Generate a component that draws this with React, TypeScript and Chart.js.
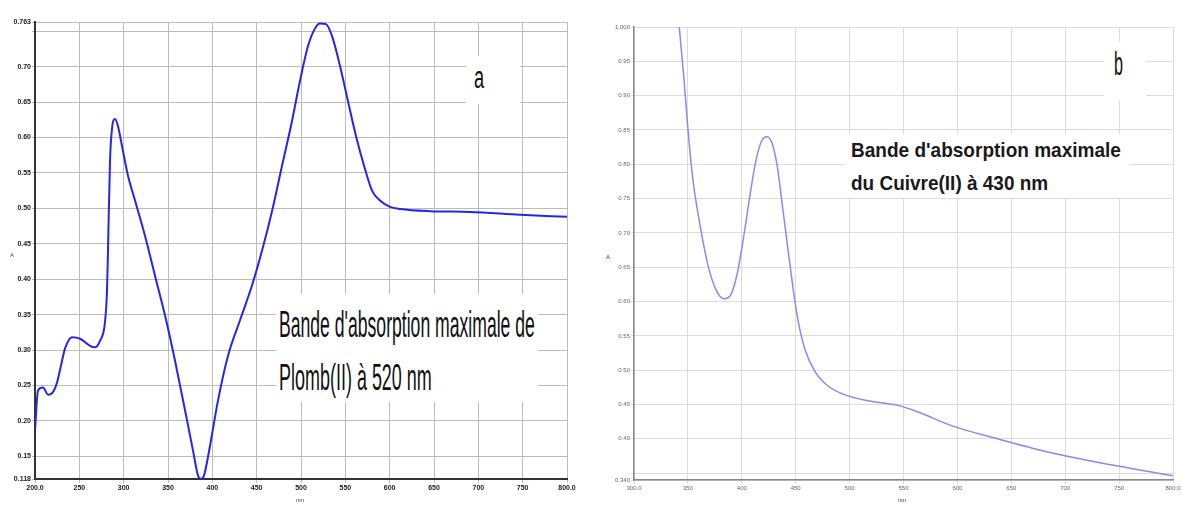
import React, { useEffect, useLayoutEffect, useRef, useState } from "react";
import { Chart, registerables } from "chart.js";

Chart.register(...registerables);

// ---------- Panel a : Plomb(II) ----------
const leadWavelengths = [200.0, 203.4, 209.0, 214.7, 219.2, 224.8, 230.5, 233.8, 241.7, 250.8, 262.0, 267.7, 273.3, 278.9, 281.2, 282.3, 284.6, 286.8, 290.2, 293.6, 298.1, 304.9, 312.8, 324.1, 335.3, 346.6, 357.9, 369.2, 378.2, 383.8, 387.2, 390.6, 397.4, 406.4, 417.7, 431.2, 444.7, 456.0, 467.3, 478.6, 489.8, 498.9, 507.9, 515.8, 521.4, 528.2, 535.0, 544.0, 553.0, 562.0, 571.1, 580.1, 589.1, 600.4, 611.7, 645.5, 690.6, 747.0, 800.0];
const leadAbsorbance = [0.187, 0.243, 0.247, 0.237, 0.239, 0.254, 0.285, 0.302, 0.318, 0.316, 0.306, 0.304, 0.313, 0.339, 0.384, 0.440, 0.567, 0.612, 0.626, 0.616, 0.588, 0.546, 0.511, 0.461, 0.405, 0.349, 0.285, 0.215, 0.158, 0.123, 0.118, 0.123, 0.165, 0.229, 0.292, 0.342, 0.391, 0.440, 0.496, 0.560, 0.623, 0.680, 0.729, 0.754, 0.761, 0.760, 0.743, 0.701, 0.651, 0.602, 0.560, 0.525, 0.511, 0.502, 0.499, 0.496, 0.495, 0.491, 0.488];
const leadXTicks = [200, 250, 300, 350, 400, 450, 500, 550, 600, 650, 700, 750, 800];
const leadXTickLabels = ["200.0", "250", "300", "350", "400", "450", "500", "550", "600", "650", "700", "750", "800.0"];
const leadYTicks = [0.118, 0.15, 0.2, 0.25, 0.3, 0.35, 0.4, 0.45, 0.5, 0.55, 0.6, 0.65, 0.7, 0.75, 0.763];
const leadYTickLabels = ["0.118", "0.15", "0.20", "0.25", "0.30", "0.35", "0.40", "0.45", "0.50", "0.55", "0.60", "0.65", "0.70", "", "0.763"];

// ---------- Panel b : Cuivre(II) ----------
const copperWavelengths = [340.8, 346.4, 350.1, 354.7, 361.2, 368.6, 376.1, 383.5, 389.1, 395.5, 402.0, 407.6, 413.2, 418.7, 423.4, 428.0, 432.7, 438.2, 444.7, 451.2, 458.6, 467.9, 480.0, 495.7, 518.9, 546.8, 565.3, 593.1, 639.5, 685.9, 732.3, 778.7, 800.0];
const copperAbsorbance = [1.02, 0.923, 0.850, 0.777, 0.712, 0.653, 0.617, 0.604, 0.608, 0.639, 0.697, 0.755, 0.806, 0.835, 0.840, 0.831, 0.799, 0.733, 0.653, 0.581, 0.530, 0.498, 0.477, 0.464, 0.455, 0.448, 0.438, 0.420, 0.399, 0.380, 0.365, 0.352, 0.346];
const copperXTicks = [300, 350, 400, 450, 500, 550, 600, 650, 700, 750, 800];
const copperXTickLabels = ["300.0", "350", "400", "450", "500", "550", "600", "650", "700", "750", "800.0"];
const copperYTicks = [0.34, 0.35, 0.4, 0.45, 0.5, 0.55, 0.6, 0.65, 0.7, 0.75, 0.8, 0.85, 0.9, 0.95, 1.0];
const copperYTickLabels = ["0.340", "", "0.40", "0.45", "0.50", "0.55", "0.60", "0.65", "0.70", "0.75", "0.80", "0.85", "0.90", "0.95", "1.000"];

type PanelProps = {
  xs: number[];
  ys: number[];
  xTicks: number[];
  xLabels: string[];
  yTicks: number[];
  yLabels: string[];
  width: number;
  height: number;
  padTop: number;
  padRight: number;
  yAxisWidth: number;
  xAxisHeight: number;
  lineColor: string;
  lineWidth: number;
  gridColor: string;
  axisColor: string;
  axisWidth: number;
  tickColor: string;
  tickFont: any;
};

function SpectrumChart(p: PanelProps) {
  const ref = useRef<HTMLCanvasElement>(null);
  useEffect(() => {
    if (!ref.current) return;
    const chart = new Chart(ref.current, {
      type: "line",
      data: {
        datasets: [
          {
            data: p.xs.map((x, i) => ({ x, y: p.ys[i] })),
            borderColor: p.lineColor,
            borderWidth: p.lineWidth,
            pointRadius: 0,
            cubicInterpolationMode: "monotone",
            fill: false,
          },
        ],
      },
      options: {
        animation: false,
        responsive: false,
        maintainAspectRatio: false,
        layout: { padding: { top: p.padTop, right: p.padRight, left: 0, bottom: 0 } },
        plugins: { legend: { display: false }, tooltip: { enabled: false }, title: { display: false } },
        scales: {
          x: {
            type: "linear",
            min: p.xTicks[0],
            max: p.xTicks[p.xTicks.length - 1],
            afterBuildTicks: (s: any) => {
              s.ticks = p.xTicks.map((v) => ({ value: v }));
            },
            afterFit: (s: any) => {
              s.height = p.xAxisHeight;
            },
            ticks: {
              autoSkip: false,
              maxRotation: 0,
              padding: 1,
              color: p.tickColor,
              font: p.tickFont,
              callback: (_v: any, i: number) => p.xLabels[i],
            },
            grid: { color: p.gridColor, lineWidth: 1, tickLength: 4 },
            border: { display: true, color: p.axisColor, width: p.axisWidth },
          },
          y: {
            type: "linear",
            min: p.yTicks[0],
            max: p.yTicks[p.yTicks.length - 1],
            afterBuildTicks: (s: any) => {
              s.ticks = p.yTicks.map((v) => ({ value: v }));
            },
            afterFit: (s: any) => {
              s.width = p.yAxisWidth;
            },
            ticks: {
              autoSkip: false,
              padding: 1,
              color: p.tickColor,
              font: p.tickFont,
              callback: (_v: any, i: number) => p.yLabels[i],
            },
            grid: { color: p.gridColor, lineWidth: 1, tickLength: 3 },
            border: { display: true, color: p.axisColor, width: p.axisWidth },
          },
        },
      },
    } as any);
    return () => chart.destroy();
  }, []);
  return (
    <canvas
      ref={ref}
      width={p.width}
      height={p.height}
      style={{ width: p.width, height: p.height, display: "block" }}
    />
  );
}

function FitText(props: {
  text: string;
  left: number;
  top: number;
  width: number;
  fontSize: number;
  fontFamily: string;
  fontWeight?: string | number;
  color?: string;
}) {
  const ref = useRef<HTMLSpanElement>(null);
  const [sx, setSx] = useState(1);
  useLayoutEffect(() => {
    if (ref.current) {
      const w = ref.current.offsetWidth;
      if (w > 0) setSx(props.width / w);
    }
  }, [props.text, props.width]);
  return (
    <span
      ref={ref}
      style={{
        position: "absolute",
        left: props.left,
        top: props.top,
        whiteSpace: "nowrap",
        fontSize: props.fontSize,
        fontFamily: props.fontFamily,
        fontWeight: props.fontWeight ?? "normal",
        color: props.color ?? "#111",
        lineHeight: 1,
        transform: `scaleX(${sx})`,
        transformOrigin: "left top",
      }}
    >
      {props.text}
    </span>
  );
}

const box = (left: number, top: number, width: number, height: number): React.CSSProperties => ({
  position: "absolute",
  left,
  top,
  width,
  height,
  background: "#fff",
});

const tiny: React.CSSProperties = {
  position: "absolute",
  fontSize: 6,
  fontFamily: "Liberation Sans, Arial, sans-serif",
  color: "#444",
  lineHeight: 1,
  whiteSpace: "nowrap",
};

export default function App() {
  const sans = "'Liberation Sans', Arial, sans-serif";
  return (
    <div
      style={{
        position: "fixed",
        left: 0,
        top: 0,
        width: 1182,
        height: 506,
        background: "#fff",
        overflow: "hidden",
      }}
    >
      {/* Panel a */}
      <div style={{ position: "absolute", left: 0, top: 0 }}>
        <SpectrumChart
          xs={leadWavelengths}
          ys={leadAbsorbance}
          xTicks={leadXTicks}
          xLabels={leadXTickLabels}
          yTicks={leadYTicks}
          yLabels={leadYTickLabels}
          width={580}
          height={506}
          padTop={22}
          padRight={13}
          yAxisWidth={35}
          xAxisHeight={27}
          lineColor="#2626e8"
          lineWidth={2}
          gridColor="#bcbcbc"
          axisColor="#333"
          axisWidth={2}
          tickColor="#1a1a1a"
          tickFont={{ family: sans, size: 7, weight: "bold" }}
        />
      </div>
      {/* Panel b */}
      <div style={{ position: "absolute", left: 590, top: 0 }}>
        <SpectrumChart
          xs={copperWavelengths}
          ys={copperAbsorbance}
          xTicks={copperXTicks}
          xLabels={copperXTickLabels}
          yTicks={copperYTicks}
          yLabels={copperYTickLabels}
          width={592}
          height={506}
          padTop={27}
          padRight={9}
          yAxisWidth={44}
          xAxisHeight={26}
          lineColor="#8a8af2"
          lineWidth={1.5}
          gridColor="#dcdcdc"
          axisColor="#888"
          axisWidth={1.5}
          tickColor="#666"
          tickFont={{ family: sans, size: 6 }}
        />
      </div>

      {/* axis titles */}
      <span style={{ ...tiny, left: 10, top: 252 }}>A</span>
      <span style={{ ...tiny, left: 296, top: 497 }}>nm</span>
      <span style={{ ...tiny, left: 606, top: 254 }}>A</span>
      <span style={{ ...tiny, left: 898, top: 497 }}>nm</span>

      {/* annotations panel a */}
      <div style={box(466, 56, 54, 48)} />
      <FitText text="a" left={474} top={62} width={10} fontSize={31} fontFamily={sans} />
      <div style={box(276, 294, 262, 108)} />
      <FitText
        text="Bande d'absorption maximale de"
        left={279}
        top={306}
        width={256}
        fontSize={37}
        fontFamily={sans}
      />
      <FitText text="Plomb(II) à 520 nm" left={279} top={359} width={153} fontSize={37} fontFamily={sans} />

      {/* annotations panel b */}
      <div style={box(1104, 42, 42, 58)} />
      <FitText text="b" left={1114} top={46} width={9} fontSize={34} fontFamily={sans} />
      <div style={box(845, 134, 285, 64)} />
      <FitText
        text="Bande d'absorption maximale"
        left={851}
        top={139}
        width={270}
        fontSize={21}
        fontFamily={sans}
        fontWeight="bold"
        color="#1a1a1a"
      />
      <FitText
        text="du Cuivre(II) à 430 nm"
        left={851}
        top={172}
        width={197}
        fontSize={21}
        fontFamily={sans}
        fontWeight="bold"
        color="#1a1a1a"
      />
    </div>
  );
}
